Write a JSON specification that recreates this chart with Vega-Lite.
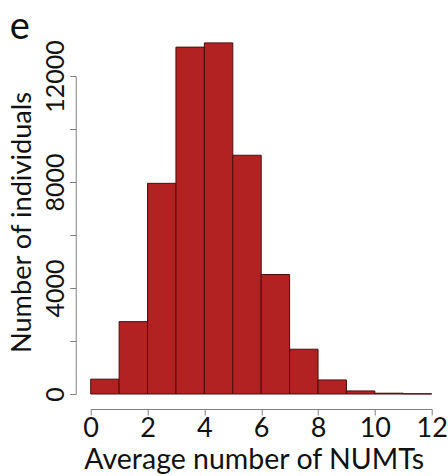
{
  "$schema": "https://vega.github.io/schema/vega-lite/v6.json",
  "width": 341,
  "height": 318,
  "autosize": "none",
  "padding": {"left": 90.7, "top": 76, "right": 16.3, "bottom": 82},
  "background": "white",
  "config": {
    "view": {"stroke": null},
    "font": "Lato",
    "axis": {"grid": false}
  },
  "title": {
    "text": "e",
    "anchor": "start",
    "frame": "group",
    "dx": -81,
    "dy": 37,
    "offset": 0,
    "fontSize": 38,
    "font": "Lato",
    "fontWeight": "normal",
    "color": "#111111",
    "baseline": "alphabetic"
  },
  "data": {
    "values": [
      {"bin_start": 0, "bin_end": 1, "count": 560},
      {"bin_start": 1, "bin_end": 2, "count": 2730},
      {"bin_start": 2, "bin_end": 3, "count": 7950},
      {"bin_start": 3, "bin_end": 4, "count": 13090},
      {"bin_start": 4, "bin_end": 5, "count": 13250},
      {"bin_start": 5, "bin_end": 6, "count": 9010},
      {"bin_start": 6, "bin_end": 7, "count": 4510},
      {"bin_start": 7, "bin_end": 8, "count": 1690},
      {"bin_start": 8, "bin_end": 9, "count": 530},
      {"bin_start": 9, "bin_end": 10, "count": 115},
      {"bin_start": 10, "bin_end": 11, "count": 30},
      {"bin_start": 11, "bin_end": 12, "count": 8}
    ]
  },
  "mark": {"type": "bar", "fill": "#B22222", "stroke": "#4a0d0d", "strokeWidth": 1, "clip": false},
  "encoding": {
    "x": {
      "field": "bin_start",
      "type": "quantitative",
      "scale": {"domain": [0, 12], "nice": false, "zero": false},
      "axis": {
        "title": "Average number of NUMTs",
        "values": [0, 2, 4, 6, 8, 10, 12],
        "offset": 15,
        "domainColor": "#808080",
        "tickColor": "#808080",
        "tickSize": 6,
        "labelFontSize": 27,
        "labelColor": "#111111",
        "labelPadding": 0,
        "labelFlush": false,
        "titleFontSize": 28.5,
        "titleFontWeight": "normal",
        "titleColor": "#111111",
        "titlePadding": 4,
        "titleX": 163,
        "titleAlign": "center"
      }
    },
    "x2": {"field": "bin_end"},
    "y": {
      "field": "count",
      "type": "quantitative",
      "scale": {"domain": [0, 12000], "nice": false},
      "axis": {
        "title": "Number of individuals",
        "values": [0, 2000, 4000, 6000, 8000, 10000, 12000],
        "labelExpr": "datum.value % 4000 === 0 ? datum.label : ''",
        "format": "d",
        "offset": 15,
        "domainColor": "#808080",
        "tickColor": "#808080",
        "tickSize": 6,
        "labelAngle": -90,
        "labelAlign": "center",
        "labelBaseline": "alphabetic",
        "labelFontSize": 25,
        "labelColor": "#111111",
        "labelPadding": 6,
        "labelFlush": false,
        "labelOverlap": false,
        "titleFontSize": 27.2,
        "titleFontWeight": "normal",
        "titleColor": "#111111",
        "titlePadding": 7,
        "titleY": 146
      }
    },
    "y2": {"datum": 0}
  }
}
